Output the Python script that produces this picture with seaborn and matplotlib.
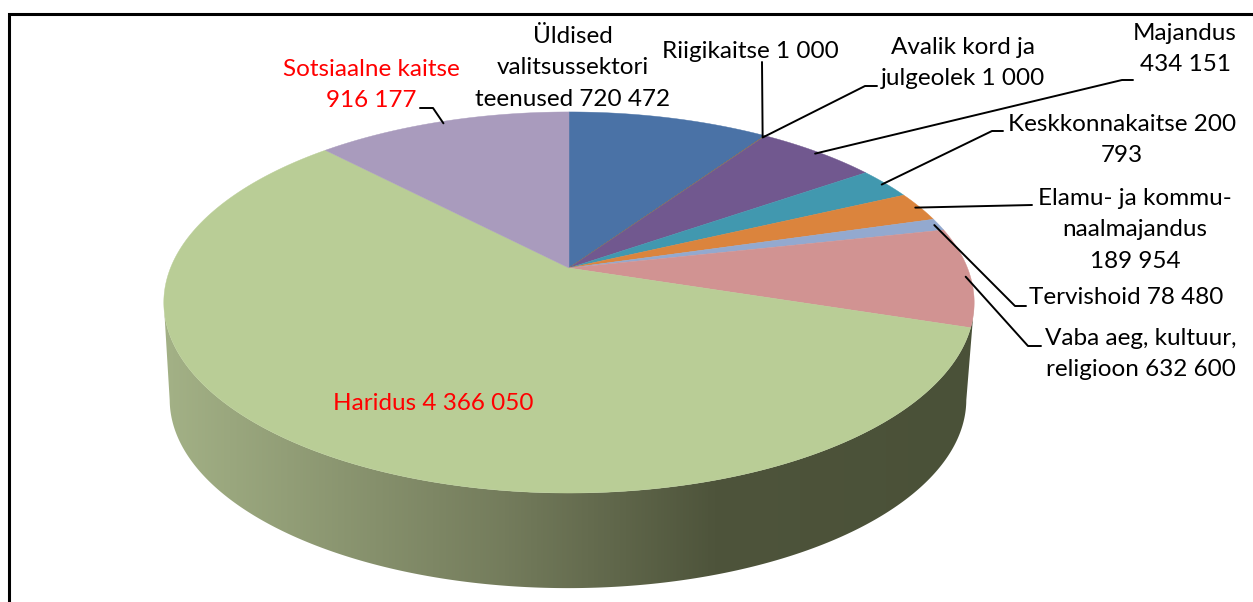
import numpy as np
import matplotlib
matplotlib.use("Agg")
import matplotlib.pyplot as plt
from matplotlib.colors import LinearSegmentedColormap
from matplotlib.patches import Polygon
import seaborn as sns

# Data
values = [720472, 1000, 1000, 434151, 200793, 189954, 78480, 632600, 4366050, 916177]
labels = ["Üldised\nvalitsussektori\nteenused 720 472", "Riigikaitse 1 000", "Avalik kord ja\njulgeolek 1 000",
          "Majandus\n434 151", "Keskkonnakaitse 200\n793", "Elamu- ja kommu-\nnaalmajandus\n189 954",
          "Tervishoid 78 480", "Vaba aeg, kultuur,\nreligioon 632 600", "Haridus 4 366 050",
          "Sotsiaalne kaitse\n916 177"]
slice_colors = ["#4A72A6", "#AA4643", "#89A54E", "#71588F", "#4198AF", "#DB843D", "#93A9CF", "#D19392", "#B9CD96", "#A99BBD"]
label_colors = ["black"] * 8 + ["red", "red"]

# Layout: label centres, and elbows of the leader lines (None = no leader)
label_xy = [(573, 68), (750, 51), (963, 63), (1185, 49), (1122, 140), (1135, 230), (1126, 298), (1141, 354), (433, 403), (371, 85)]
elbows = [None, [(762, 62)], [(865, 86), (877, 86)], [(1122, 80), (1133, 80)], [(992, 131), (1003, 131)],
          [(1032, 205)], [(1015, 306), (1026, 306)], [(1028, 346), (1041, 346)], None, [(433, 108), (420, 108)]]

sns.set_theme(style="white")
plt.rcParams["font.family"] = ["Lato", "DejaVu Sans"]
palette = sns.color_palette(slice_colors)

# pie seen in perspective
cx, cy = 569, 268
a, b, k = 398.5, 184.3, 0.181
depth = 97


def project(theta):
    x = np.sin(theta)
    y = np.cos(theta)
    d = 1 + k * y
    return cx + a * x / d, cy - b * y / d


def lower_rim(px, py):
    # the bottom edge of the side wall is a bit narrower than the top face
    return 568 + (px - 569) * 0.983, 302 + depth + (py - 302) * 0.99


fig, ax = plt.subplots(figsize=(12.53, 6.02), dpi=100)
fig.subplots_adjust(0, 0, 1, 1)

shares = np.array(values) / sum(values)
edges = np.concatenate([[0], np.cumsum(shares)]) * 2 * np.pi

# side wall
t = np.linspace(0, 2 * np.pi, 720)
tx, ty = project(t)
left = np.argmin(tx)
right = np.argmax(tx)
front = np.linspace(t[right], t[left], 300)
fx, fy = project(front)
bx, by = lower_rim(fx, fy)
wall = Polygon(np.column_stack([np.r_[fx, bx[::-1]], np.r_[fy, by[::-1]]]), closed=True, transform=ax.transData, fc="none", ec="none")
ax.add_patch(wall)
shade = LinearSegmentedColormap.from_list("shade", [(0, "#A3B186"), (0.42, "#747C5C"), (0.68, "#4E543B"), (1, "#4A5138")])
grad = np.linspace(0, 1, 512).reshape(1, -1)
im = ax.imshow(grad, cmap=shade, extent=(164, 974, 602, 250), aspect="auto", zorder=1)
im.set_clip_path(wall)

# top face
for i in range(len(values)):
    arc = np.linspace(edges[i], edges[i + 1], max(int(shares[i] * 720), 2))
    px, py = project(arc)
    ax.fill(np.r_[cx, px], np.r_[cy, py], color=palette[i], lw=0.3, zorder=2)

# leader lines start just inside the rim at the middle of the slice
for i in range(len(values)):
    if elbows[i] is None:
        continue
    sx, sy = project((edges[i] + edges[i + 1]) / 2)
    sx = cx + (sx - cx) * 0.988
    sy = cy + (sy - cy) * 0.988
    xs = [sx] + [p[0] for p in elbows[i]]
    ys = [sy] + [p[1] for p in elbows[i]]
    ax.plot(xs, ys, color="black", lw=1.4, zorder=3)

for i in range(len(values)):
    ax.text(label_xy[i][0], label_xy[i][1], labels[i], color=label_colors[i], fontsize=17.5, ha="center", va="center",
            linespacing=1.62, zorder=4)

# frame, the bottom and right side are cut off in the picture
ax.plot([9, 9, 1253], [602, 13.5, 13.5], color="black", lw=2.2, solid_joinstyle="miter", zorder=5)

ax.set_xlim(0, 1253)
ax.set_ylim(602, 0)
ax.axis("off")
fig.savefig("out.png", dpi=100)
